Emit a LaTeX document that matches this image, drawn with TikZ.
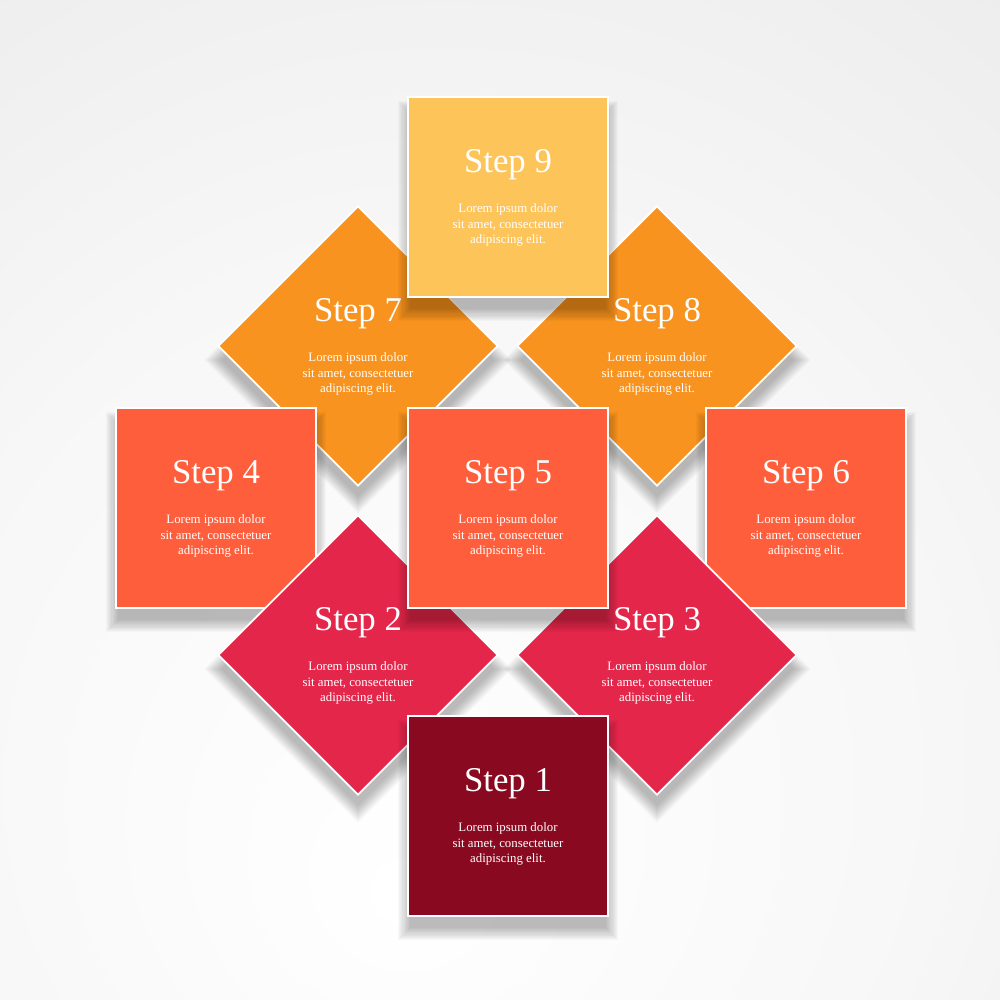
\documentclass[tikz,border=0pt]{standalone}
\usepackage{fontspec}
\setmainfont{Liberation Serif}
\usepackage{tikz}
\usetikzlibrary{positioning}
\usetikzlibrary{calc}
\usetikzlibrary{shapes.geometric}

\definecolor{stepyellow}{HTML}{FDC45A}
\definecolor{steporange}{HTML}{F7931E}
\definecolor{stepcoral}{HTML}{FF5E3C}
\definecolor{steppink}{HTML}{E4264B}
\definecolor{stepwine}{HTML}{890A20}

\pgfdeclareradialshading{paper}{\pgfpoint{-5bp}{-20bp}}{color(0bp)=(white); color(25bp)=(white!97!black); color(75bp)=(white!86!black)}

\tikzset{
  card/.style={draw=white, line width=0.35mm, inner sep=0pt},
  squarecard/.style={card, rectangle, minimum size=4cm},
  diamondcard/.style={card, diamond, minimum size=5.6cm},
  cardshadow/.style={draw=none, fill=black, fill opacity=0.022},
  steptitle/.style={text=white, font=\fontsize{19.8}{22}\selectfont, anchor=base, inner sep=0pt},
  stepbody/.style={text=white, align=center, font=\fontsize{7.3}{8.8}\selectfont, inner sep=0pt}
}

\newcommand\stepcard[5]{% name, shape, colour, position, number
  \foreach \k in {0,...,11}
    \node[#2, cardshadow, scale={1.10-0.011*\k}] (#1shadow\k) at ($(#4)+(0,14)$) {};
  \node[#2, fill=#3] (#1) at (#4) {};
  \node[steptitle] (#1title) at ($(#1.center)+(0,-25)$) {Step #5};
  \node[stepbody] (#1text) at ($(#1.center)+(0,28)$) {Lorem ipsum dolor\\sit amet, consectetuer\\adipiscing elit.};
}

\begin{document}
\begin{tikzpicture}[x=0.2mm, y=-0.2mm]
  \useasboundingbox (0,0) rectangle (1000,1000);
  \shade[shading=paper] (0,0) rectangle (1000,1000);

  % back row
  \stepcard{s7}{diamondcard}{steporange}{358,346}{7}
  \stepcard{s8}{diamondcard}{steporange}{657,346}{8}
  \stepcard{s4}{squarecard}{stepcoral}{216,508}{4}
  \stepcard{s6}{squarecard}{stepcoral}{806,508}{6}
  \stepcard{s9}{squarecard}{stepyellow}{508,197}{9}
  % front row
  \stepcard{s2}{diamondcard}{steppink}{358,655}{2}
  \stepcard{s3}{diamondcard}{steppink}{657,655}{3}
  \stepcard{s5}{squarecard}{stepcoral}{508,508}{5}
  \stepcard{s1}{squarecard}{stepwine}{508,816}{1}
\end{tikzpicture}
\end{document}
